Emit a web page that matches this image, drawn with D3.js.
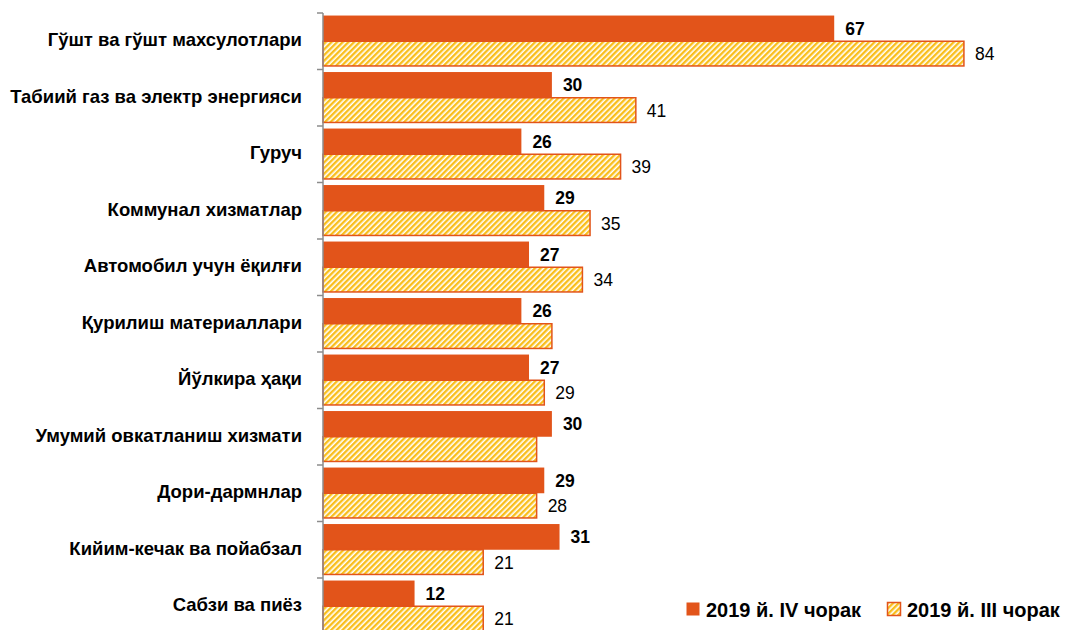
<!DOCTYPE html>
<html>
<head>
<meta charset="utf-8">
<script src="https://cdn.jsdelivr.net/npm/d3@7"></script>
<style>
  body { margin: 0; background: #fff; }
  text { font-family: "Liberation Sans", Arial, sans-serif; }
</style>
</head>
<body>
<script>
const categories = [
    'Гўшт ва гўшт махсулотлари',
    'Табиий газ ва электр  энергияси',
    'Гуруч',
    'Коммунал хизматлар',
    'Автомобил учун ёқилғи',
    'Қурилиш материаллари',
    'Йўлкира ҳақи',
    'Умумий овкатланиш хизмати',
    'Дори-дармнлар',
    'Кийим-кечак ва пойабзал',
    'Сабзи ва пиёз'
];
const seriesNames = ['2019 й. IV чорак', '2019 й. III чорак'];
const q4Values = [67, 30, 26, 29, 27, 26, 27, 30, 29, 31, 12];
const q3Values = [84, 41, 39, 35, 34, 30, 29, 28, 28, 21, 21];
// labels that are shown on the III quarter bars (null = not shown)
const q3Labels = [84, 41, 39, 35, 34, null, 29, null, 28, 21, 21];

const width = 1066;
const height = 630;
const orange = '#E2541A';
const yellow = '#F9BE1C';

var svg = d3.select('body')
    .append('svg')
    .attr('width', width)
    .attr('height', height);

var defs = svg.append('defs');
var pat = defs.append('pattern')
    .attr('id', 'hatch')
    .attr('patternUnits', 'userSpaceOnUse')
    .attr('width', 4)
    .attr('height', 4)
    .attr('patternTransform', 'rotate(45)');
pat.append('rect').attr('width', 4).attr('height', 4).attr('fill', '#fff');
pat.append('rect').attr('width', 2.4).attr('height', 4).attr('fill', yellow);

var x_scale = d3.scaleLinear()
    .domain([0, 90])
    .range([323, 323 + 90 * 7.63]);

var y_scale = d3.scaleBand()
    .domain(categories)
    .range([13, 634.5])
    .paddingInner(0.09)
    .paddingOuter(0.045);

var y_inner = d3.scaleBand()
    .domain([0, 1])
    .range([0, y_scale.bandwidth()]);

var data = categories.map(function (c, i) {
    return {cat: c, q4: q4Values[i], q3: q3Values[i], q3label: q3Labels[i]};
});

var groups = svg.selectAll('.cat')
    .data(data)
    .enter()
    .append('g')
    .attr('transform', function (d) { return 'translate(0,' + y_scale(d.cat) + ')'; });

groups.append('rect')
    .attr('x', x_scale(0))
    .attr('y', y_inner(0))
    .attr('width', function (d) { return x_scale(d.q4) - x_scale(0); })
    .attr('height', y_inner.bandwidth())
    .attr('fill', orange);

groups.append('rect')
    .attr('x', x_scale(0))
    .attr('y', y_inner(1))
    .attr('width', function (d) { return x_scale(d.q3) - x_scale(0); })
    .attr('height', y_inner.bandwidth() - 1)
    .attr('fill', 'url(#hatch)')
    .attr('stroke', orange)
    .attr('stroke-width', 1.5);

groups.append('text')
    .attr('x', function (d) { return x_scale(d.q4) + 11; })
    .attr('y', y_inner(0) + y_inner.bandwidth() / 2)
    .attr('dy', '0.35em')
    .style('font-size', '17.5px')
    .style('font-weight', 'bold')
    .text(function (d) { return d.q4; });

groups.filter(function (d) { return d.q3label !== null; })
    .append('text')
    .attr('x', function (d) { return x_scale(d.q3) + 11; })
    .attr('y', y_inner(1) + y_inner.bandwidth() / 2)
    .attr('dy', '0.35em')
    .style('font-size', '17.5px')
    .text(function (d) { return d.q3label; });

// category axis
var y_axis = d3.axisLeft(y_scale).tickSize(0).tickPadding(21);
var axis_g = svg.append('g')
    .attr('transform', 'translate(' + x_scale(0) + ',0)')
    .call(y_axis);
axis_g.select('.domain').attr('stroke', '#8c8c8c').attr('stroke-width', 1.5).attr('d', 'M0,13V634.5');
axis_g.selectAll('text')
    .style('font-size', '18.5px')
    .style('font-weight', 'bold')
    .style('font-family', '"Liberation Sans", Arial, sans-serif')
    .attr('fill', '#000')
    .attr('dy', '0.28em');

// boundary tick marks
var bounds = categories.map(function (c) { return y_scale(c) - y_scale.step() * y_scale.paddingInner() / 2; });
axis_g.selectAll('.bound')
    .data(bounds)
    .enter()
    .append('line')
    .attr('x1', -6)
    .attr('x2', 0)
    .attr('y1', function (d) { return d; })
    .attr('y2', function (d) { return d; })
    .attr('stroke', '#8c8c8c')
    .attr('stroke-width', 1.5);

// legend
var legend = svg.append('g').attr('transform', 'translate(686,602)');
var legX = [0, 201];
seriesNames.forEach(function (name, i) {
    var g = legend.append('g').attr('transform', 'translate(' + legX[i] + ',0)');
    g.append('rect')
        .attr('x', 0.5)
        .attr('y', 0.5)
        .attr('width', 13)
        .attr('height', 13)
        .attr('fill', i === 0 ? orange : 'url(#hatch)')
        .attr('stroke', orange)
        .attr('stroke-width', i === 0 ? 0 : 1.5);
    g.append('text')
        .attr('x', 20)
        .attr('y', 7.5)
        .attr('dy', '0.35em')
        .style('font-size', '20px')
        .style('font-weight', 'bold')
        .text(name);
});
</script>
</body>
</html>
